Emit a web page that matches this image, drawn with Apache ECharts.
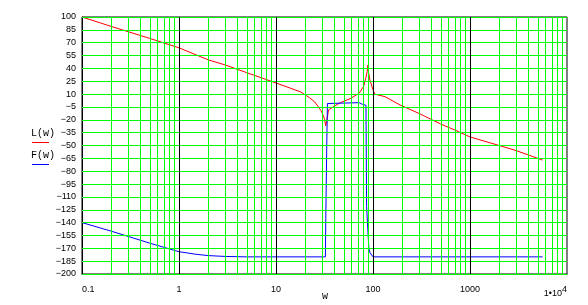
<!DOCTYPE html>
<html><head><meta charset="utf-8">
<script src="https://cdn.jsdelivr.net/npm/echarts@6/dist/echarts.min.js"></script>
<style>html,body{margin:0;padding:0;background:#fff}#c{width:588px;height:305px}</style>
</head><body><div id="c"></div>
<script>
// Data
var wL = [0.1,0.2,0.5,1,2,3,5,10,14,18,22,25,27,29,30.5,31.8,32.5,33.3,34.8,36,40,46,58,72,80,84,87,88.6,90,93,97.6,104,133,190,300,500,700,1000,2000,3000,5600];
var L  = [100,89,75,64,50,44,35,23,17,12.5,6,1,-4,-9,-14,-20,-27,-22,-8.5,-7,-4,0,4.6,11,19,28,36,44,35,26.5,18.6,10,7,-2.7,-12.7,-25,-32,-40,-50,-56,-67];
var wF = [0.1,0.2,0.5,1,1.5,2,3,5,32.3,32.5,32.6,33.2,33.4,33.7,33.9,34.5,72,78,84.6,85.9,90.6,93,97,100,5600];
var F  = [-140,-150,-164,-174,-177,-178.5,-179.5,-180,-180,-178,-135,-134,-46,-45,-1,0,0,-2,-3,-121,-170,-175,-176,-180,-180];
var yTicks = [100,85,70,55,40,25,10,-5,-20,-35,-50,-65,-80,-95,-110,-125,-140,-155,-170,-185,-200];
var xDecades = [0.1,1,10,100,1000,10000];
var xMinor = [];
[0.1,1,10,100,1000].forEach(function(d){ for (var k=2;k<=9;k++) xMinor.push(+(d*k).toPrecision(3)); });
var seriesNames = ['L(w)','F(w)'];
var xName = 'w';

function pairs(xs, ys){ return xs.map(function(x,i){ return [x, ys[i]]; }); }

var chart = echarts.init(document.getElementById('c'), null, {renderer:'canvas'});
var fontFam = '"Liberation Sans", Arial, sans-serif';
var monoFont = '10px "Liberation Mono", monospace';
chart.setOption({
  animation: false,
  backgroundColor: '#fff',
  grid: {left: 82, right: 21, top: 17, bottom: 31, show: true, borderColor: '#000', borderWidth: 1,
         backgroundColor: 'transparent', containLabel: false, outerBoundsMode: 'none'},
  xAxis: {
    type: 'log', logBase: 10, min: 0.1, max: 10000,
    axisLine: {show: true, onZero: false, lineStyle: {color: '#000', width: 1}},
    axisTick: {show: false},
    splitLine: {show: false},
    axisLabel: {
      color: '#000', fontSize: 9, fontFamily: fontFam, margin: 11,
      alignMinLabel: 'left', alignMaxLabel: 'right',
      formatter: function(v){
        if (v >= 9999) return '{a|1\u202210}{s|4}';
        return String(+v.toPrecision(3));
      },
      rich: {a: {fontSize: 9, fontFamily: fontFam, color: '#000'},
             s: {fontSize: 9, fontFamily: fontFam, color: '#000', verticalAlign: 'bottom', padding: [0,0,9,0]}}
    }
  },
  yAxis: {
    type: 'value', min: -200, max: 100,
    axisLine: {show: true, onZero: false, lineStyle: {color: '#000', width: 1}},
    axisTick: {show: false, customValues: yTicks},
    splitLine: {show: false},
    axisLabel: {
      color: '#000', fontSize: 9, fontFamily: fontFam, margin: 6,
      customValues: yTicks,
      formatter: function(v){ return String(v).replace('-', '\u2212'); }
    }
  },
  graphic: [
    {type: 'text', left: 31, top: 128, style: {text: seriesNames[0], font: monoFont, fill: '#000'}},
    {type: 'line', shape: {x1: 32, y1: 142.5, x2: 49, y2: 142.5}, style: {stroke: '#ff0000', lineWidth: 1}},
    {type: 'text', left: 31, top: 150, style: {text: seriesNames[1], font: monoFont, fill: '#000'}},
    {type: 'line', shape: {x1: 32, y1: 164.5, x2: 49, y2: 164.5}, style: {stroke: '#0000ff', lineWidth: 1}},
    {type: 'text', left: 322, top: 291, style: {text: xName, font: monoFont, fill: '#000'}}
  ],
  series: [
    {
      type: 'line', data: [], z: 1, silent: true,
      markLine: {
        silent: true, symbol: 'none', label: {show: false}, animation: false,
        lineStyle: {color: '#00ff00', width: 1, type: 'solid'},
        data: xMinor.map(function(v){ return {xAxis: v}; })
          .concat(yTicks.map(function(v){ return {yAxis: v}; }))
      }
    },
    {
      type: 'line', data: [], z: 2, silent: true,
      markLine: {
        silent: true, symbol: 'none', label: {show: false}, animation: false,
        lineStyle: {color: '#000', width: 1, type: 'solid'},
        data: xDecades.slice(1,5).map(function(v){ return {xAxis: v}; })
      }
    },
    {name: seriesNames[0], type: 'line', z: 3, data: pairs(wL, L), showSymbol: false, symbol: 'none',
     lineStyle: {color: '#ff0000', width: 1}},
    {name: seriesNames[1], type: 'line', z: 3, data: pairs(wF, F), showSymbol: false, symbol: 'none',
     lineStyle: {color: '#0000ff', width: 1}}
  ]
});
</script></body></html>
